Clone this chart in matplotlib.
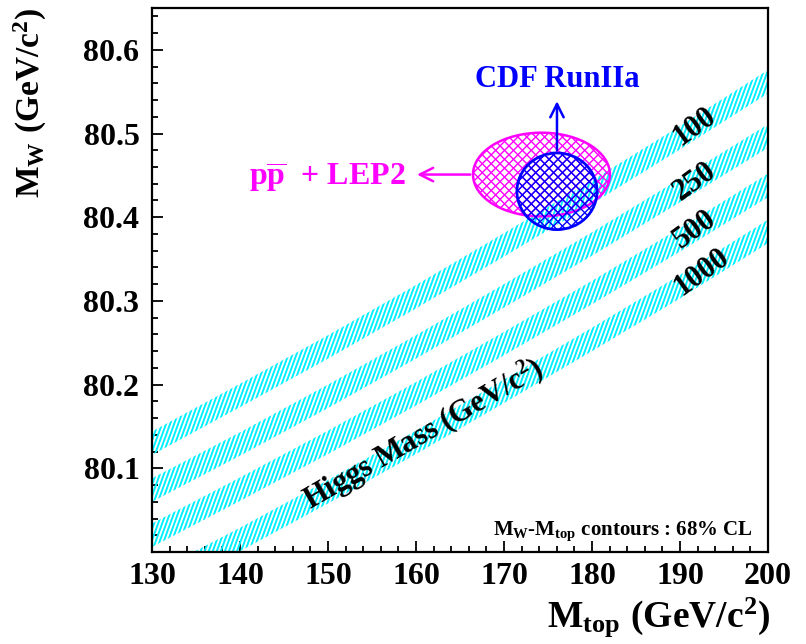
import numpy as np
import matplotlib
matplotlib.use("Agg")
import matplotlib.pyplot as plt
from matplotlib.collections import LineCollection
from matplotlib.patches import Ellipse
from matplotlib.transforms import IdentityTransform

plt.rcParams["font.family"] = ["Liberation Serif", "DejaVu Serif"]
plt.rcParams["font.weight"] = "bold"
plt.rcParams["mathtext.fontset"] = "custom"
plt.rcParams["mathtext.rm"] = "Liberation Serif:bold"
plt.rcParams["mathtext.it"] = "Liberation Serif:bold"
plt.rcParams["mathtext.bf"] = "Liberation Serif:bold"

# --- data -------------------------------------------------------------
# SM prediction of M_W versus M_top for several Higgs masses (band centres)
m_top = [130, 140, 150, 160, 170, 180, 190, 200]
higgs_masses = ["100", "250", "500", "1000"]
mw_h100 = [80.130, 80.187, 80.245, 80.305, 80.367, 80.430, 80.495, 80.562]
mw_h250 = [80.074, 80.129, 80.186, 80.245, 80.306, 80.368, 80.432, 80.497]
mw_h500 = [80.020, 80.075, 80.131, 80.189, 80.249, 80.310, 80.373, 80.438]
mw_h1000 = [79.960, 80.015, 80.072, 80.131, 80.192, 80.254, 80.317, 80.383]
band_halfwidth = 0.014

# 68% CL contours (centre, half-axes)
lep_center = (174.26, 80.451)
lep_halfaxes = (7.78, 0.050)
cdf_center = (176.02, 80.431)
cdf_halfaxes = (4.55, 0.0458)

# label positions for Higgs masses (M_top, M_W)
higgs_label_pos = [(191.7, 80.508), (191.7, 80.443), (191.7, 80.385), (192.5, 80.334)]

# --- figure -----------------------------------------------------------
W, H = 806, 644
fig = plt.figure(figsize=(W / 100, H / 100), dpi=100)
ax = fig.add_axes([152 / W, 1 - 552 / H, (768 - 152) / W, (552 - 8) / H])
ax.set_xlim(130, 200)
ax.set_ylim(80.0, 80.65)

for s in ax.spines.values():
    s.set_linewidth(1.6)

ax.set_xticks(np.arange(130, 201, 10))
ax.set_xticks(np.arange(130, 201, 2), minor=True)
ax.set_yticks([80.1, 80.2, 80.3, 80.4, 80.5, 80.6])
ax.set_yticks(np.arange(80.0, 80.651, 0.02), minor=True)
ax.set_yticklabels(["80.1", "80.2", "80.3", "80.4", "80.5", "80.6"])
ax.tick_params(which="both", direction="in", top=False, right=False, width=1.3)
ax.tick_params(which="major", length=8)
ax.tick_params(which="minor", length=4.5)
ax.tick_params(axis="x", which="major", labelsize=23, pad=7)
ax.tick_params(axis="y", which="major", labelsize=23, pad=9)
for lab in ax.get_xticklabels() + ax.get_yticklabels():
    lab.set_fontweight("bold")


def hatch_clip(clip_path, clip_transform, angles, spacing_px, color, lw, zorder):
    """Fill a region with parallel line hatching, clipped to the region."""
    bb = ax.bbox
    cx, cy = (bb.x0 + bb.x1) / 2, (bb.y0 + bb.y1) / 2
    R = np.hypot(bb.width, bb.height)
    for ang in angles:
        a = np.deg2rad(ang)
        d = np.array([np.cos(a), np.sin(a)])
        n = np.array([-np.sin(a), np.cos(a)])
        offs = np.arange(-R, R, spacing_px)
        segs = [[(cx + o * n[0] - R * d[0], cy + o * n[1] - R * d[1]),
                 (cx + o * n[0] + R * d[0], cy + o * n[1] + R * d[1])] for o in offs]
        lc = LineCollection(segs, colors=color, linewidths=lw,
                            transform=IdentityTransform(), zorder=zorder)
        ax.add_collection(lc, autolim=False)
        lc.set_clip_path(clip_path, clip_transform)


# Higgs mass bands
for mw in [mw_h100, mw_h250, mw_h500, mw_h1000]:
    mw = np.asarray(mw)
    poly = ax.fill_between(m_top, mw - band_halfwidth, mw + band_halfwidth,
                           facecolor="none", edgecolor="none")
    hatch_clip(poly.get_paths()[0], ax.transData, [70], 3.8, "#00f0ff", 1.4, 2)

# 68% CL ellipses
lep = Ellipse(lep_center, 2 * lep_halfaxes[0], 2 * lep_halfaxes[1],
              facecolor="none", edgecolor="#ff00ff", linewidth=1.8, zorder=4)
ax.add_patch(lep)
hatch_clip(lep.get_path(), lep.get_transform(), [45, -45], 6.3, "#ff00ff", 1.0, 3)

cdf = Ellipse(cdf_center, 2 * cdf_halfaxes[0], 2 * cdf_halfaxes[1],
              facecolor="none", edgecolor="#0000ff", linewidth=2.0, zorder=6)
ax.add_patch(cdf)
hatch_clip(cdf.get_path(), cdf.get_transform(), [45, -45], 6.3, "#0000ff", 1.0, 5)

# arrows and labels for the contours
ax.annotate("", xy=(cdf_center[0], 80.542), xytext=(cdf_center[0], cdf_center[1] + cdf_halfaxes[1]),
            arrowprops=dict(arrowstyle="->", color="#0000ff", lw=1.8, mutation_scale=24), zorder=7)
ax.text(cdf_center[0], 80.564, "CDF RunIIa", color="#0000ff", fontsize=22,
        fontweight="bold", ha="center", va="center", zorder=7)

ax.annotate("", xy=(159.8, lep_center[1]), xytext=(lep_center[0] - lep_halfaxes[0], lep_center[1]),
            arrowprops=dict(arrowstyle="->", color="#ff00ff", lw=1.8, mutation_scale=24), zorder=7)
ax.text(158.8, lep_center[1] - 0.004, r"$\mathrm{p\overline{p}}$  + LEP2", color="#ff00ff",
        fontsize=23, fontweight="bold", ha="right", va="center", zorder=7)

# Higgs mass labels
for lab, (x, y) in zip(higgs_masses, higgs_label_pos):
    ax.text(x, y, lab, fontsize=22, fontweight="bold", rotation=36,
            ha="center", va="center", rotation_mode="anchor", zorder=8)

ax.text(160.9, 80.141, r"Higgs Mass (GeV/c$^{2}$)", fontsize=22, fontweight="bold",
        rotation=30, ha="center", va="center", rotation_mode="anchor", zorder=8)

ax.text(198.3, 80.02, r"$\mathrm{M_{W}}$-$\mathrm{M_{top}}$ contours : 68% CL", fontsize=15,
        fontweight="bold", ha="right", va="baseline", zorder=8)

# axis titles
fig.text(770 / W, 1 - 617 / H, r"$\mathrm{M_{top}\ (GeV/c^{2})}$", fontsize=27,
         ha="right", va="center")
fig.text(30 / W, 1 - 8 / H, r"$\mathrm{M_{W}\ (GeV/c^{2})}$", fontsize=24,
         rotation=90, ha="center", va="top")

fig.savefig("out.png", dpi=100)
